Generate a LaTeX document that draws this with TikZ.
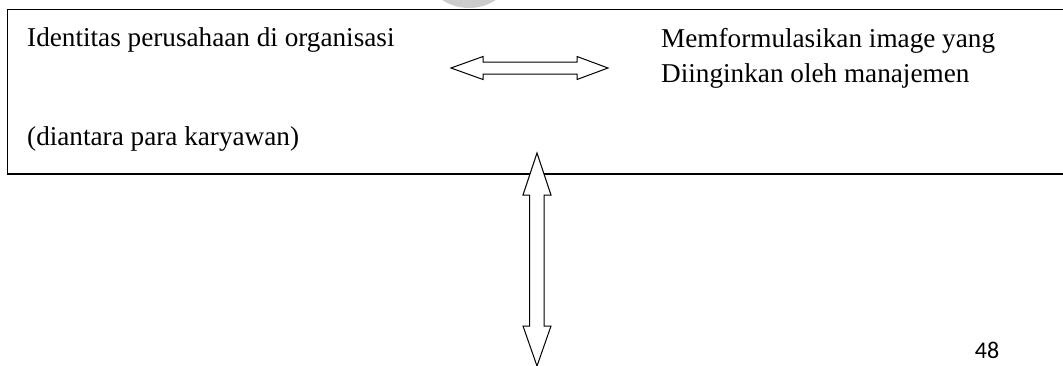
\documentclass[tikz,border=0pt]{standalone}
\usepackage{fontspec}
\setmainfont{Liberation Serif}
\newfontfamily\pagefont{Carlito}
\begin{document}
\begin{tikzpicture}[x=1pt,y=-1pt,
  txt/.style={anchor=base west,inner sep=0pt,font=\fontsize{27.2}{35}\selectfont,align=left},
  frame/.style={line width=1.3pt,draw=black},
  blockarrow/.style={draw=black,line width=1pt,fill=white,line join=miter}]
  \useasboundingbox (0,0) rectangle (1063,365);

  % faint grey blob above the frame
  \begin{scope}
    \clip (400,0) rectangle (540,8.5);
    \fill[black!20] (469,-36) ellipse [x radius=46.5, y radius=44];
  \end{scope}

  % open frame (continues past the right edge)
  \draw[frame] (1070,9.8) -- (7.5,9.8) -- (7.5,174) -- (1070,174);

  % texts
  \node[txt] (ident) at (27,46) {Identitas perusahaan di organisasi};
  \node[txt] (karya) at (27,145) {(diantara para karyawan)};
  \node[txt,anchor=north west] (formul) at (661,28.4) {Memformulasikan image yang\\Diinginkan oleh manajemen};
  \node[anchor=base,inner sep=0pt,font=\pagefont\fontsize{24}{28}\selectfont] (page) at (987,358) {48};

  % horizontal double block arrow between the two statements
  \draw[blockarrow] (451,68) -- (483,56.5) -- (483,62) -- (577,62) -- (577,56.5)
    -- (608,68) -- (577,79.5) -- (577,74) -- (483,74) -- (483,79.5) -- cycle;

  % vertical double block arrow crossing the bottom of the frame
  \draw[blockarrow] (537,153) -- (551,195) -- (544.2,195) -- (544.2,326) -- (551,326)
    -- (537,366) -- (523,326) -- (529.6,326) -- (529.6,195) -- (523,195) -- cycle;
\end{tikzpicture}
\end{document}
